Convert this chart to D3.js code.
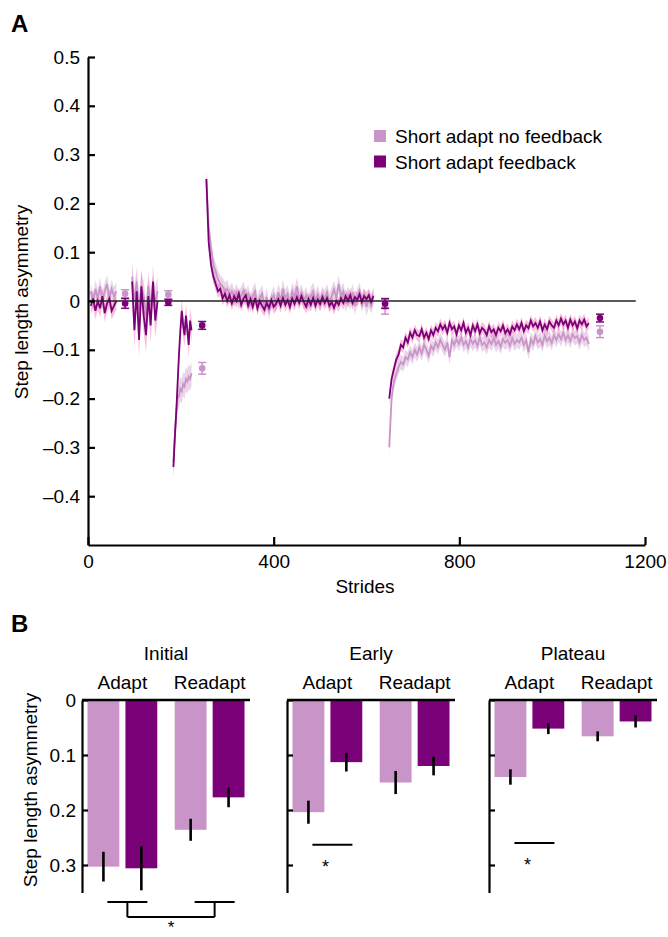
<!DOCTYPE html>
<html lang="en">
<head>
<meta charset="UTF-8">
<title>Step length asymmetry</title>
<script src="https://d3js.org/d3.v7.min.js"></script>
<style>
  body { margin: 0; background: #fff; }
  svg { font-family: "Liberation Sans", Arial, sans-serif; }
  .axis path, .axis line { stroke: #000; stroke-width: 2.2px; }
  .axis text { font-size: 19px; fill: #000; }
</style>
</head>
<body>
<svg id="chart" width="668" height="937"></svg>
<script>
// ---------- panel A data (strides, asymmetry) ----------
const segNames = ["baseline1", "baseline2", "adapt", "post", "readapt"];
const segStart = [6, 95, 184, 255, 649];
const segStep  = [5, 5, 3, 5, 5];

// feedback group
const fbBaseline1 = [-0.01, 0.005, -0.02, 0.0, -0.015, 0.01, -0.025, -0.005, 0.005, -0.02, -0.01, 0.0];
const fbBaseline2 = [0.04, -0.06, 0.02, -0.08, 0.03, -0.03, -0.07, 0.01, -0.05, 0.04, -0.04, 0.0];
const fbAdapt = [-0.34, -0.28, -0.23, -0.17, -0.11, -0.06, -0.02, -0.05, -0.07, -0.03, -0.06, -0.09, -0.04, -0.06];
const fbPost = [0.25, 0.12, 0.075, 0.05, 0.035, 0.02, 0.025, 0.005, 0.015, 0.0,
  0.012, -0.005, 0.01, 0.0, 0.015, -0.008, 0.005, 0.012, -0.01, 0.004,
  -0.012, 0.006, -0.015, 0.0, -0.01, -0.018, -0.004, -0.014, 0.002, -0.012,
  -0.006, 0.004, -0.01, 0.006, -0.008, 0.002, -0.012, 0.005, -0.006, 0.008,
  -0.004, 0.01, -0.002, -0.012, 0.004, -0.008, 0.006, -0.01, 0.003, -0.006,
  0.008, -0.004, 0.006, -0.01, -0.002, -0.014, 0.0, -0.008, 0.006, -0.004,
  0.01, 0.0, 0.012, -0.004, 0.008, 0.002, 0.014, -0.002, 0.01, 0.004,
  0.012, -0.002, 0.01];
const fbReadapt = [-0.2, -0.16, -0.14, -0.12, -0.11, -0.09, -0.095, -0.075, -0.085, -0.065,
  -0.075, -0.06, -0.07, -0.072, -0.058, -0.075, -0.065, -0.078, -0.06, -0.07,
  -0.055, -0.062, -0.048, -0.058, -0.05, -0.065, -0.045, -0.058, -0.052, -0.068,
  -0.05, -0.06, -0.045, -0.065, -0.055, -0.07, -0.05, -0.062, -0.048, -0.066,
  -0.055, -0.06, -0.07, -0.052, -0.064, -0.058, -0.07, -0.055, -0.062, -0.05,
  -0.066, -0.058, -0.068, -0.052, -0.06, -0.048, -0.058, -0.045, -0.062, -0.05,
  -0.056, -0.04, -0.052, -0.045, -0.055, -0.042, -0.06, -0.048, -0.058, -0.042,
  -0.05, -0.055, -0.04, -0.05, -0.036, -0.048, -0.04, -0.055, -0.038, -0.05,
  -0.042, -0.056, -0.04, -0.048, -0.038, -0.052, -0.045];
const fbBand = [0.018, 0.035, 0.025, 0.014, 0.012];

// no-feedback group
const nfBaseline1 = [0.02, -0.005, 0.025, 0.005, 0.03, 0.0, 0.02, 0.035, 0.005, 0.025, 0.01, 0.02];
const nfBaseline2 = [0.05, 0.0, 0.04, -0.02, 0.03, 0.01, -0.03, 0.03, -0.01, 0.02, 0.0, 0.02];
const nfAdapt = [-0.33, -0.28, -0.23, -0.2, -0.195, -0.18, -0.185, -0.17, -0.175, -0.16, -0.165, -0.155, -0.16, -0.148];
const nfPost = [0.25, 0.15, 0.11, 0.075, 0.06, 0.045, 0.035, 0.03, 0.02, 0.025,
  0.01, 0.02, 0.005, 0.018, 0.0, 0.012, 0.022, 0.004, 0.015, -0.005,
  0.01, 0.02, -0.008, 0.005, 0.015, -0.01, 0.008, -0.02, 0.0, 0.012,
  -0.005, 0.018, 0.002, 0.025, 0.005, 0.015, -0.004, 0.02, 0.008, 0.03,
  0.006, 0.016, 0.0, 0.012, -0.006, 0.01, 0.02, 0.002, 0.014, -0.004,
  0.012, 0.004, 0.018, -0.002, 0.01, 0.024, 0.006, 0.035, 0.01, 0.02,
  -0.005, 0.012, 0.0, 0.018, -0.01, 0.008, 0.02, -0.004, 0.01, -0.012,
  0.005, -0.008, 0.012];
const nfReadapt = [-0.3, -0.2, -0.165, -0.15, -0.135, -0.125, -0.13, -0.115, -0.12, -0.105,
  -0.115, -0.1, -0.11, -0.095, -0.108, -0.09, -0.1, -0.112, -0.092, -0.1,
  -0.085, -0.095, -0.08, -0.09, -0.1, -0.085, -0.115, -0.08, -0.09, -0.078,
  -0.088, -0.075, -0.09, -0.082, -0.095, -0.078, -0.088, -0.08, -0.092, -0.075,
  -0.09, -0.085, -0.095, -0.08, -0.088, -0.076, -0.09, -0.082, -0.094, -0.078,
  -0.086, -0.08, -0.092, -0.076, -0.088, -0.08, -0.085, -0.075, -0.09, -0.08,
  -0.105, -0.078, -0.088, -0.072, -0.085, -0.078, -0.09, -0.07, -0.082, -0.075,
  -0.086, -0.07, -0.08, -0.068, -0.078, -0.065, -0.08, -0.07, -0.082, -0.068,
  -0.076, -0.072, -0.085, -0.07, -0.08, -0.075, -0.088];
const nfBand = [0.018, 0.03, 0.025, 0.018, 0.015];

// averaged epochs with error bars
const epochStrides = [80, 173, 246, 640, 1103];
const fbEpochMean = [-0.005, -0.003, -0.05, -0.005, -0.035];
const fbEpochSE   = [0.01, 0.006, 0.008, 0.01, 0.008];
const nfEpochMean = [0.015, 0.013, -0.138, -0.012, -0.063];
const nfEpochSE   = [0.008, 0.008, 0.012, 0.015, 0.012];

const xTicksA = [0, 400, 800, 1200];
const yTicksA = [-0.4, -0.3, -0.2, -0.1, 0, 0.1, 0.2, 0.3, 0.4, 0.5];
const zeroLineEnd = 1180;

// ---------- panel B data ----------
const phases = ["Initial", "Early", "Plateau"];
const groups = ["Adapt", "Readapt"];
const nfBarMean = [[0.303, 0.236], [0.204, 0.150], [0.140, 0.066]];
const nfBarSE   = [[0.027, 0.020], [0.021, 0.021], [0.014, 0.009]];
const fbBarMean = [[0.306, 0.177], [0.113, 0.120], [0.052, 0.039]];
const fbBarSE   = [[0.040, 0.018], [0.017, 0.017], [0.010, 0.011]];
const yTicksB = [0, 0.1, 0.2, 0.3];
const sigLevel = [0, 0.263, 0.26];

const colNF = "#c994c7", colFB = "#7a0177";
const legendLabels = ["Short adapt no feedback", "Short adapt feedback"];

const svg = d3.select("#chart");
const fmt = v => v === 0 ? "0" : (v < 0 ? "\u2013" + d3.format(".1f")(-v) : d3.format(".1f")(v));

// ================= PANEL A =================
const x = d3.scaleLinear().domain([0, 1200]).range([88, 645]);
const y = d3.scaleLinear().domain([-0.5, 0.5]).range([545, 57]);

svg.append("text").attr("x", 11).attr("y", 32)
  .attr("font-size", 24).attr("font-weight", "bold").text("A");

function buildSeries(lists, bands) {
  return lists.map((vals, s) => ({
    band: bands[s],
    pts: vals.map((v, i) => ({ s: segStart[s] + i * segStep[s], v: v }))
  }));
}
const nfSeries = buildSeries([nfBaseline1, nfBaseline2, nfAdapt, nfPost, nfReadapt], nfBand);
const fbSeries = buildSeries([fbBaseline1, fbBaseline2, fbAdapt, fbPost, fbReadapt], fbBand);

const area = b => d3.area().x(d => x(d.s)).y0(d => y(d.v - b)).y1(d => y(d.v + b));
const line = d3.line().x(d => x(d.s)).y(d => y(d.v));

const gA = svg.append("g");
nfSeries.forEach(seg => gA.append("path").attr("d", area(seg.band)(seg.pts))
  .attr("fill", colNF).attr("opacity", 0.4));
fbSeries.forEach(seg => gA.append("path").attr("d", area(seg.band)(seg.pts))
  .attr("fill", "#e7298a").attr("opacity", 0.3));
nfSeries.forEach(seg => gA.append("path").attr("d", line(seg.pts))
  .attr("fill", "none").attr("stroke", colNF).attr("stroke-width", 1.8));
fbSeries.forEach(seg => gA.append("path").attr("d", line(seg.pts))
  .attr("fill", "none").attr("stroke", colFB).attr("stroke-width", 1.8));

// zero reference
gA.append("line").attr("x1", x(0)).attr("x2", x(zeroLineEnd))
  .attr("y1", y(0)).attr("y2", y(0)).attr("stroke", "#222").attr("stroke-width", 1.3);

// epoch means
function epochs(means, ses, col) {
  const g = gA.append("g");
  means.forEach((m, i) => {
    const cx = x(epochStrides[i]);
    g.append("line").attr("x1", cx).attr("x2", cx)
      .attr("y1", y(m - ses[i])).attr("y2", y(m + ses[i]))
      .attr("stroke", col).attr("stroke-width", 1.5);
    [m - ses[i], m + ses[i]].forEach(v => g.append("line")
      .attr("x1", cx - 4).attr("x2", cx + 4).attr("y1", y(v)).attr("y2", y(v))
      .attr("stroke", col).attr("stroke-width", 1.5));
    g.append("circle").attr("cx", cx).attr("cy", y(m)).attr("r", 3.3).attr("fill", col);
  });
}
epochs(nfEpochMean, nfEpochSE, colNF);
epochs(fbEpochMean, fbEpochSE, colFB);

svg.append("g").attr("class", "axis")
  .attr("transform", `translate(${x(0)},0)`)
  .call(d3.axisLeft(y).tickValues(yTicksA).tickFormat(fmt)
    .tickSizeInner(-7).tickSizeOuter(0).tickPadding(8));

svg.append("g").attr("class", "axis")
  .attr("transform", `translate(0,${y(-0.5)})`)
  .call(d3.axisBottom(x).tickValues(xTicksA).tickFormat(d3.format("d"))
    .tickSizeInner(-8).tickSizeOuter(0).tickPadding(10));

svg.selectAll(".axis .domain").attr("stroke-width", 2.4);

svg.append("text").attr("x", 365).attr("y", 593).attr("text-anchor", "middle")
  .attr("font-size", 19).text("Strides");
svg.append("text").attr("transform", "translate(28,302) rotate(-90)")
  .attr("text-anchor", "middle").attr("font-size", 19).text("Step length asymmetry");

// legend
[colNF, colFB].forEach((c, i) => {
  svg.append("rect").attr("x", 374).attr("y", 130 + i * 25.5)
    .attr("width", 12).attr("height", 12).attr("fill", c);
  svg.append("text").attr("x", 395).attr("y", 143 + i * 25.5)
    .attr("font-size", 19).text(legendLabels[i]);
});

// ================= PANEL B =================
svg.append("text").attr("x", 11).attr("y", 632)
  .attr("font-size", 24).attr("font-weight", "bold").text("B");

const panelX = [82, 287, 489];
const panelW = 168;
const yB = d3.scaleLinear().domain([0, 0.35]).range([700, 892.5]);
const gx = d3.scaleBand().domain(groups).range([0, panelW]).paddingInner(0.2).paddingOuter(0.063);
const ix = d3.scaleBand().domain(["nf", "fb"]).range([0, gx.bandwidth()]).paddingInner(0.16);

svg.append("text").attr("transform", "translate(37,790) rotate(-90)")
  .attr("text-anchor", "middle").attr("font-size", 19).text("Step length asymmetry");

phases.forEach((ph, p) => {
  const g = svg.append("g").attr("transform", `translate(${panelX[p]},0)`);

  const bars = [];
  groups.forEach((gr, k) => {
    bars.push({ key: "nf", g: gr, v: nfBarMean[p][k], se: nfBarSE[p][k], c: colNF });
    bars.push({ key: "fb", g: gr, v: fbBarMean[p][k], se: fbBarSE[p][k], c: colFB });
  });

  g.selectAll("rect.bar").data(bars).join("rect").attr("class", "bar")
    .attr("x", d => gx(d.g) + ix(d.key)).attr("width", ix.bandwidth())
    .attr("y", yB(0)).attr("height", d => yB(d.v) - yB(0)).attr("fill", d => d.c);

  g.selectAll("line.err").data(bars).join("line").attr("class", "err")
    .attr("x1", d => gx(d.g) + ix(d.key) + ix.bandwidth() / 2)
    .attr("x2", d => gx(d.g) + ix(d.key) + ix.bandwidth() / 2)
    .attr("y1", d => yB(d.v - d.se)).attr("y2", d => yB(d.v + d.se))
    .attr("stroke", "#000").attr("stroke-width", 2.6);

  g.append("g").attr("class", "axis")
    .call(d3.axisLeft(yB).tickValues(yTicksB)
      .tickFormat(p === 0 ? (v => v === 0 ? "0" : d3.format(".1f")(v)) : "")
      .tickSizeInner(-6).tickSizeOuter(0).tickPadding(6));

  g.append("line").attr("x1", 0).attr("x2", panelW).attr("y1", yB(0)).attr("y2", yB(0))
    .attr("stroke", "#000").attr("stroke-width", 2.6);

  g.append("text").attr("x", panelW / 2).attr("y", 660).attr("text-anchor", "middle")
    .attr("font-size", 19).text(ph);
  groups.forEach(gr => g.append("text").attr("x", gx(gr) + gx.bandwidth() / 2)
    .attr("y", 689).attr("text-anchor", "middle").attr("font-size", 19).text(gr));

  const cAd = gx("Adapt") + gx.bandwidth() / 2 + 5;
  const cRe = gx("Readapt") + gx.bandwidth() / 2 + 5;
  if (p === 0) {
    const y1 = 902, y2 = 917;
    [cAd, cRe].forEach(c => {
      g.append("line").attr("x1", c - 20).attr("x2", c + 20).attr("y1", y1).attr("y2", y1)
        .attr("stroke", "#000").attr("stroke-width", 2);
      g.append("line").attr("x1", c).attr("x2", c).attr("y1", y1).attr("y2", y2)
        .attr("stroke", "#000").attr("stroke-width", 2);
    });
    g.append("line").attr("x1", cAd).attr("x2", cRe).attr("y1", y2).attr("y2", y2)
      .attr("stroke", "#000").attr("stroke-width", 2);
    g.append("text").attr("x", (cAd + cRe) / 2).attr("y", 933).attr("text-anchor", "middle")
      .attr("font-size", 17).text("*");
  } else {
    const ys = yB(sigLevel[p]);
    g.append("line").attr("x1", cAd - 20).attr("x2", cAd + 20).attr("y1", ys).attr("y2", ys)
      .attr("stroke", "#000").attr("stroke-width", 2);
    g.append("text").attr("x", cAd - 7).attr("y", ys + 28).attr("text-anchor", "middle")
      .attr("font-size", 18).text("*");
  }
});
</script>
</body>
</html>
